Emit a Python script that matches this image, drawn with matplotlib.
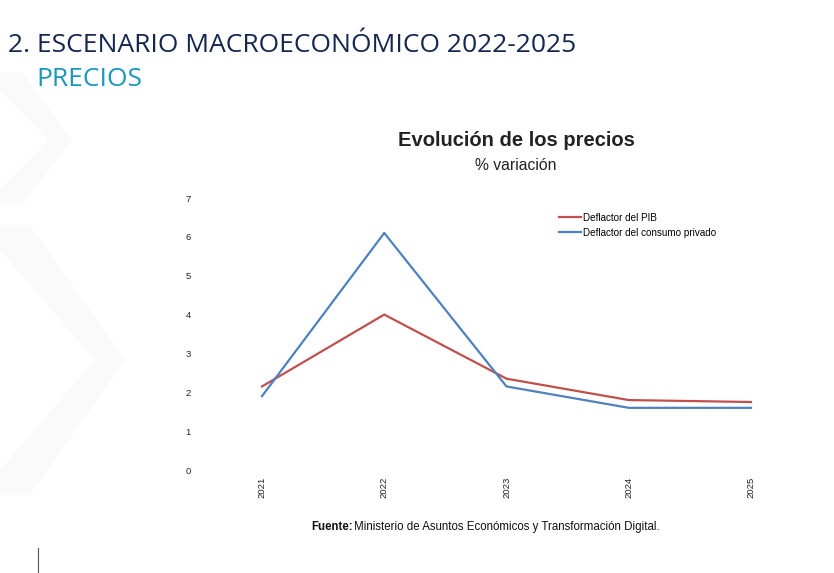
import matplotlib.pyplot as plt
from matplotlib.patches import Polygon
from matplotlib.lines import Line2D

# --- datos ---
years = ["2021", "2022", "2023", "2024", "2025"]
deflactor_pib = [2.15, 4.0, 2.35, 1.8, 1.75]
deflactor_consumo = [1.9, 6.1, 2.15, 1.6, 1.6]
y_ticks = [0, 1, 2, 3, 4, 5, 6, 7]

W, H = 834, 573
fig = plt.figure(figsize=(W / 100, H / 100), dpi=100)
fig.patch.set_facecolor("white")

# chevrons de fondo (muy tenues)
def px(x, y):
    return (x / W, 1 - y / H)

chev1 = [px(0, 72), px(22, 72), px(72, 140), px(22, 205), px(0, 205), px(0, 190), px(48, 140), px(0, 90)]
chev2 = [px(0, 225), px(30, 225), px(125, 360), px(30, 495), px(0, 495), px(0, 470), px(95, 360), px(0, 250)]
for pts in (chev1, chev2):
    fig.patches.append(Polygon(pts, closed=True, transform=fig.transFigure,
                               facecolor="#fafafa", edgecolor="none", zorder=0))
fig.add_artist(Line2D([38 / W, 38 / W], [0, 1 - 548 / H], transform=fig.transFigure,
                      color="#555555", linewidth=0.8))

# cabecera
fig.text(8 / W, 1 - 46 / H, "2. ESCENARIO MACROECONÓMICO 2022-2025", fontsize=19,
         family="Open Sans", color="#14274e", va="center", ha="left")
fig.text(36 / W, 1 - 79 / H, "PRECIOS", fontsize=19, family="Open Sans",
         color="#1b97bb", va="center", ha="left")

# titulo del grafico
fig.text(516 / W, 1 - 141 / H, "Evolución de los precios", fontsize=14.5,
         family="Liberation Sans", weight="bold", color="#222222", ha="center", va="center")
fig.text(516 / W, 1 - 166 / H, "% variación", fontsize=11.3,
         family="Liberation Sans", color="#222222", ha="center", va="center")

# ejes
ax = fig.add_axes([262 / W, 1 - 470 / H, (751 - 262) / W, (470 - 198) / H])
x = list(range(len(years)))
ax.plot(x, deflactor_pib, color="#c0504d", linewidth=1.6, label="Deflactor del PIB", clip_on=False)
ax.plot(x, deflactor_consumo, color="#4f81bd", linewidth=1.6,
        label="Deflactor del consumo privado", clip_on=False)
ax.set_xlim(0, 4)
ax.set_ylim(0, 7)
ax.set_yticks(y_ticks)
ax.set_xticks(x)
ax.set_xticklabels(years, rotation=90, fontsize=6.8, family="Liberation Sans", color="#222222")
ax.set_yticklabels([str(t) for t in y_ticks], fontsize=6.8, family="Liberation Sans", color="#222222")
for lab in ax.get_yticklabels():
    lab.set_horizontalalignment("center")
ax.tick_params(axis="both", length=0)
ax.tick_params(axis="y", pad=53)
ax.tick_params(axis="x", pad=5)
for s in ax.spines.values():
    s.set_visible(False)
ax.set_facecolor("none")

leg = ax.legend(loc="upper left", bbox_to_anchor=((555 - 262) / (751 - 262), 1 - (209 - 198) / (470 - 198)),
                frameon=False, prop={"family": "Liberation Sans", "size": 7.1},
                handlelength=2.2, handletextpad=0.25, labelspacing=0.5, borderaxespad=0)

fig.text(311 / W, 1 - 527 / H, "Fuente:", fontsize=8.3, family="Liberation Sans",
         weight="bold", color="#111111", ha="left", va="center")
fig.text(354 / W, 1 - 527 / H, "Ministerio de Asuntos Económicos y Transformación Digital.",
         fontsize=8.3, family="Liberation Sans", color="#111111", ha="left", va="center")

fig.savefig("out.png", dpi=100)
